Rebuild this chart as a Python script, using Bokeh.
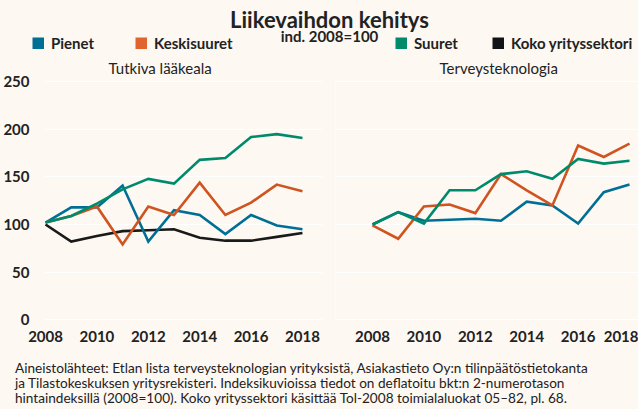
from bokeh.plotting import figure
from bokeh.layouts import column, row
from bokeh.models import (Range1d, Label, Legend, LegendItem, Div, SingleIntervalTicker, Span)
from bokeh.embed import file_html
from bokeh.resources import INLINE

# ---- data ----
years = [2008, 2009, 2010, 2011, 2012, 2013, 2014, 2015, 2016, 2017, 2018]
# Tutkiva lääkeala
pienet_L = [102, 118, 118, 141, 82, 115, 110, 90, 110, 99, 95]
kesk_L = [102, 109, 119, 79, 119, 110, 144, 110, 123, 142, 135]
suuret_L = [102, 109, 122, 137, 148, 143, 168, 170, 192, 195, 191]
koko_L = [100, 82, 88, 93, 94, 95, 86, 83, 83, 87, 91]
# Terveysteknologia
pienet_R = [100, 113, 104, 105, 106, 104, 124, 120, 101, 134, 142]
kesk_R = [99, 85, 119, 121, 112, 153, 136, 120, 183, 171, 185]
suuret_R = [100, 113, 101, 136, 136, 153, 156, 148, 169, 164, 167]

series_names = ["Pienet", "Keskisuuret", "Suuret", "Koko yrityssektori"]
title_text = "Liikevaihdon kehitys"
subtitle_text = "ind. 2008=100"
panel_titles = ["Tutkiva lääkeala", "Terveysteknologia"]
note_lines = [
    "Aineistolähteet: Etlan lista terveysteknologian yrityksistä, Asiakastieto Oy:n tilinpäätöstietokanta",
    "ja Tilastokeskuksen yritysrekisteri. Indeksikuvioissa tiedot on deflatoitu bkt:n 2-numerotason",
    "hintaindeksillä (2008=100). Koko yrityssektori käsittää Tol-2008 toimialaluokat 05–82, pl. 68.",
]

# ---- style ----
BG = "#fdf8f2"
TXT = "#222222"
FONT = "Lato"
C_BLUE = "#006f96"
C_ORANGE = "#cf5420"
C_GREEN = "#008a6c"
C_BLACK = "#1a1a1a"
LEG_COLORS = [C_BLUE, "#e0652d", C_GREEN, "#111416"]
LW = 2.6
W = 633

# ---- header (title, subtitle, legend) ----
HH = 54
head = figure(width=W, height=HH, x_range=Range1d(0, W), y_range=Range1d(0, HH),
              output_backend="svg", toolbar_location=None, min_border=0,
              background_fill_color=BG, border_fill_color=BG, outline_line_color=None)
head.axis.visible = False
head.grid.visible = False
head.add_layout(Label(x=329, y=35, text=title_text, text_align="center",
                      text_baseline="alphabetic", text_font=FONT, text_font_size="22px",
                      text_font_style="bold", text_color=TXT))
head.add_layout(Label(x=329, y=19, text=subtitle_text, text_align="center",
                      text_baseline="alphabetic", text_font=FONT, text_font_size="15px",
                      text_font_style="bold", text_color=TXT))

# hidden renderers that only provide the legend swatches
all_vals = [pienet_L, kesk_L, suuret_L, koko_L]
swatches = [head.line(years, v, line_color=c, line_width=12, visible=False)
            for v, c in zip(all_vals, LEG_COLORS)]

legend_x = [32, 135, 395, 492]
for name, rend, lx in zip(series_names, swatches, legend_x):
    lg = Legend(items=[LegendItem(label=name, renderers=[rend])],
                orientation="horizontal", location=(lx, 2),
                glyph_width=12, glyph_height=12, label_standoff=7, spacing=0,
                padding=0, margin=0, border_line_color=None, background_fill_alpha=0,
                label_text_font=FONT, label_text_font_size="15px",
                label_text_font_style="bold", label_text_color=TXT, label_height=12)
    head.add_layout(lg, "center")


# ---- panels ----
def panel(title, x_range, left_border, right_border, frame_w, show_y, title_offset):
    p = figure(frame_width=frame_w, frame_height=242, x_range=x_range,
               y_range=Range1d(-2, 252.5), output_backend="svg", toolbar_location=None,
               min_border_left=left_border, min_border_right=right_border,
               min_border_top=0, min_border_bottom=0,
               background_fill_color=BG, border_fill_color=BG, outline_line_color=None,
               title=title)
    p.title.align = "left"
    p.title.offset = title_offset
    p.title.text_font = FONT
    p.title.text_font_size = "15px"
    p.title.text_font_style = "normal"
    p.title.text_color = TXT
    p.title.standoff = 5
    p.xgrid.visible = False
    p.ygrid.grid_line_color = "white"
    p.ygrid.grid_line_width = 1.2
    p.yaxis.ticker = SingleIntervalTicker(interval=50)
    p.xaxis.ticker = SingleIntervalTicker(interval=2)
    for ax in [p.xaxis, p.yaxis]:
        ax.axis_line_color = None
        ax.major_tick_line_color = None
        ax.minor_tick_line_color = None
        ax.major_label_text_font = FONT
        ax.major_label_text_font_size = "15px"
        ax.major_label_text_font_style = "bold"
        ax.major_label_text_color = TXT
    p.xaxis.major_label_standoff = 3
    p.yaxis.major_label_standoff = 9
    if not show_y:
        p.yaxis.visible = False
    return p


p1 = panel(panel_titles[0], Range1d(2007.96, 2018.78), 39, 8, 278, True, 64)
p2 = panel(panel_titles[1], Range1d(2006.56, 2018.35), 5, 0, 303, False, 104)
p2.add_layout(Span(location=p2.x_range.start, dimension="height", line_color="white",
                   line_width=1.2))

for p, data in [(p1, [koko_L, pienet_L, kesk_L, suuret_L]),
                (p2, [None, pienet_R, kesk_R, suuret_R])]:
    for vals, c in zip(data, [C_BLACK, C_BLUE, C_ORANGE, C_GREEN]):
        if vals is None:
            continue
        p.line(years, vals, line_color=c, line_width=LW, line_join="miter")

note = Div(text="<br>".join(note_lines), width=W, height=48, margin=(17, 0, 0, 0),
           styles={"font-family": FONT, "font-size": "13.6px", "line-height": "15px",
                   "color": TXT, "padding-left": "15px", "background-color": BG,
                   "white-space": "nowrap"})

layout = column(head, row(p1, p2, spacing=0), note, spacing=0,
                styles={"background-color": BG})

html = file_html(layout, INLINE)
html = html.replace("<body>", '<body style="background-color:%s;">' % BG, 1)
open("out.html", "w").write(html)
